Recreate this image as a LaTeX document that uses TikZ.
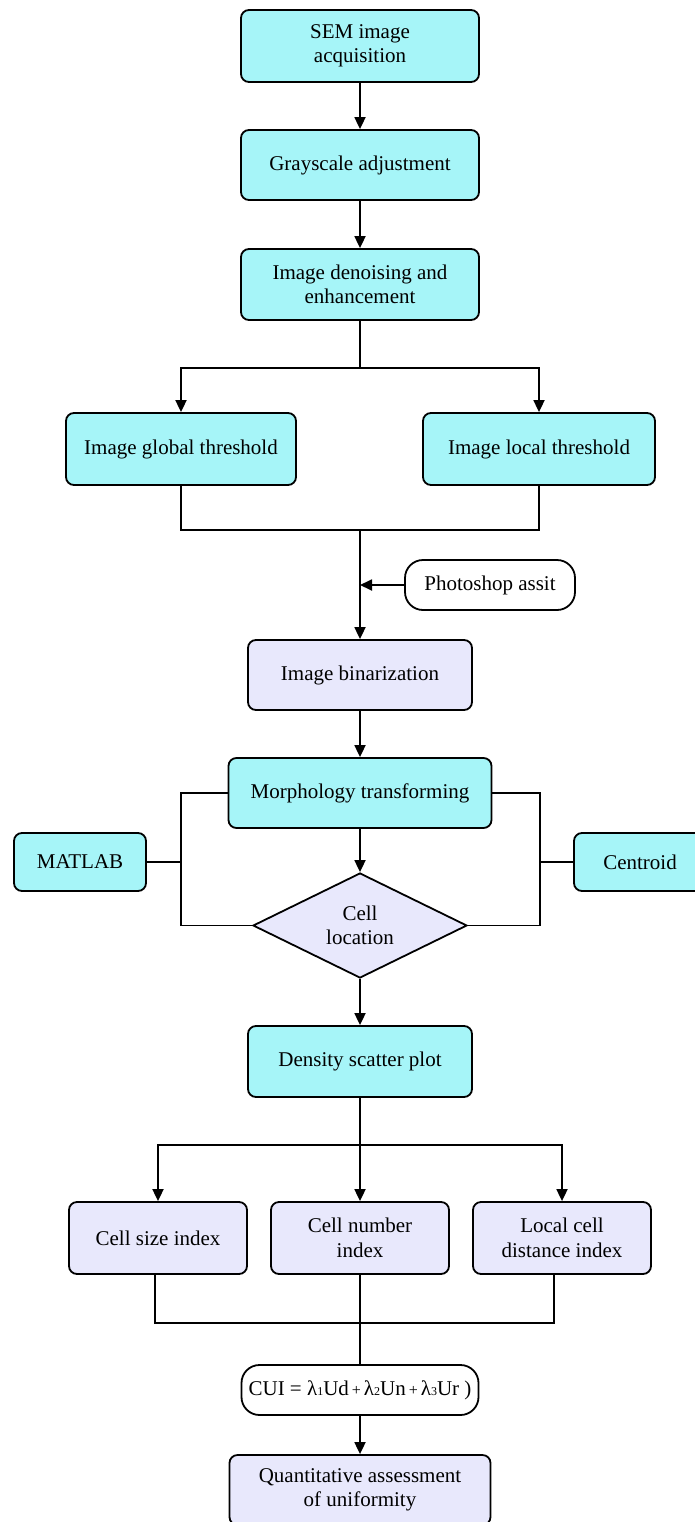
\documentclass[tikz,border=0pt]{standalone}
\usepackage{fontspec}
\setmainfont{Liberation Serif}
\usetikzlibrary{shapes.geometric,arrows.meta}
\definecolor{cya}{RGB}{166, 245, 248}
\definecolor{lav}{RGB}{232, 232, 252}
\newcommand{\sml}[1]{{\fontsize{12}{12}\selectfont #1}}
\newcommand{\pls}{\hspace{3pt}{\fontsize{16}{16}\selectfont +}\hspace{3pt}}
\tikzset{
  box/.style={draw=black, line width=1.8pt, rounded corners=8pt, align=center,
    inner sep=0pt, font=\fontsize{21}{24.5}\selectfont},
  cbox/.style={box, fill=cya},
  lbox/.style={box, fill=lav},
  pill/.style={box, fill=white, rounded corners=18pt},
  dia/.style={diamond, draw=black, line width=1.8pt, fill=lav, align=center,
    inner sep=0pt, minimum width=214pt, minimum height=105pt, aspect=2,
    font=\fontsize{21}{24.5}\selectfont},
  lin/.style={line width=1.8pt},
  arr/.style={lin, -{Triangle[length=12pt, width=11pt]}},
}
\begin{document}
\begin{tikzpicture}[x=1pt, y=-1pt]
    \useasboundingbox (0,0) rectangle (695,1522);
    % main column
    \node[cbox, minimum width=238pt, minimum height=72pt] (sem) at (360,46) {SEM image\\acquisition};
    \node[cbox, minimum width=238pt, minimum height=70pt] (gray) at (360,165) {Grayscale adjustment};
    \node[cbox, minimum width=238pt, minimum height=71pt] (deno) at (360,284.5) {Image denoising and\\enhancement};
    \node[cbox, minimum width=230pt, minimum height=72pt] (glob) at (181,449) {Image global threshold};
    \node[cbox, minimum width=232pt, minimum height=72pt] (loc) at (539,449) {Image local threshold};
    \node[pill, minimum width=170pt, minimum height=50pt] (photo) at (490,585) {Photoshop assit};
    \node[lbox, minimum width=224pt, minimum height=70pt] (bin) at (360,675) {Image binarization};
    \node[cbox, minimum width=263pt, minimum height=70pt] (morph) at (360,793) {Morphology transforming};
    \node[cbox, minimum width=132pt, minimum height=58pt] (matlab) at (80,862) {MATLAB};
    \node[cbox, minimum width=132pt, minimum height=58pt] (cent) at (640,862) {Centroid};
    \node[dia] (cellloc) at (360,925.5) {Cell\\location};
    \node[cbox, minimum width=224pt, minimum height=71pt] (dens) at (360,1061.5) {Density scatter plot};
    \node[lbox, minimum width=178pt, minimum height=72pt] (size) at (158,1238) {Cell size index};
    \node[lbox, minimum width=178pt, minimum height=72pt] (num) at (360,1238) {Cell number\\index};
    \node[lbox, minimum width=178pt, minimum height=72pt] (dist) at (562,1238) {Local cell\\distance index};
    \node[pill, minimum width=237pt, minimum height=50pt] (cui) at (360,1390)
        {CUI = λ\sml{1}Ud\pls λ\sml{2}Un\pls λ\sml{3}Ur )};
    \node[lbox, minimum width=261pt, minimum height=70pt] (quant) at (360,1490) {Quantitative assessment\\of uniformity};

    % helper points
    \coordinate (s1) at (360,368);
    \coordinate (m1) at (360,530);
    \coordinate (lft) at (181,862);
    \coordinate (rgt) at (540,862);
    \coordinate (s2) at (360,1145);
    \coordinate (m2) at (360,1323);

    % connectors
    \draw[arr] (sem) -- (gray);
    \draw[arr] (gray) -- (deno);
    \draw[lin] (deno) -- (s1);
    \draw[arr] (s1) -| (glob.north);
    \draw[arr] (s1) -| (loc.north);
    \draw[lin] (glob.south) |- (m1) -| (loc.south);
    \draw[arr] (m1) -- (bin);
    \draw[arr] (photo) -- (photo -| m1);
    \draw[arr] (bin) -- (morph);
    \draw[lin] (morph.west) -| (lft) |- (cellloc.west);
    \draw[lin] (morph.east) -| (rgt) |- (cellloc.east);
    \draw[lin] (matlab) -- (lft);
    \draw[lin] (cent) -- (rgt);
    \draw[arr] (morph) -- (cellloc);
    \draw[arr] (cellloc) -- (dens);
    \draw[lin] (dens) -- (s2);
    \draw[arr] (s2) -| (size.north);
    \draw[arr] (s2) -- (num);
    \draw[arr] (s2) -| (dist.north);
    \draw[lin] ([xshift=-3pt]size.south) |- (m2) -| ([xshift=-8pt]dist.south);
    \draw[lin] (num) -- (cui);
    \draw[arr] (cui) -- (quant);
\end{tikzpicture}
\end{document}
